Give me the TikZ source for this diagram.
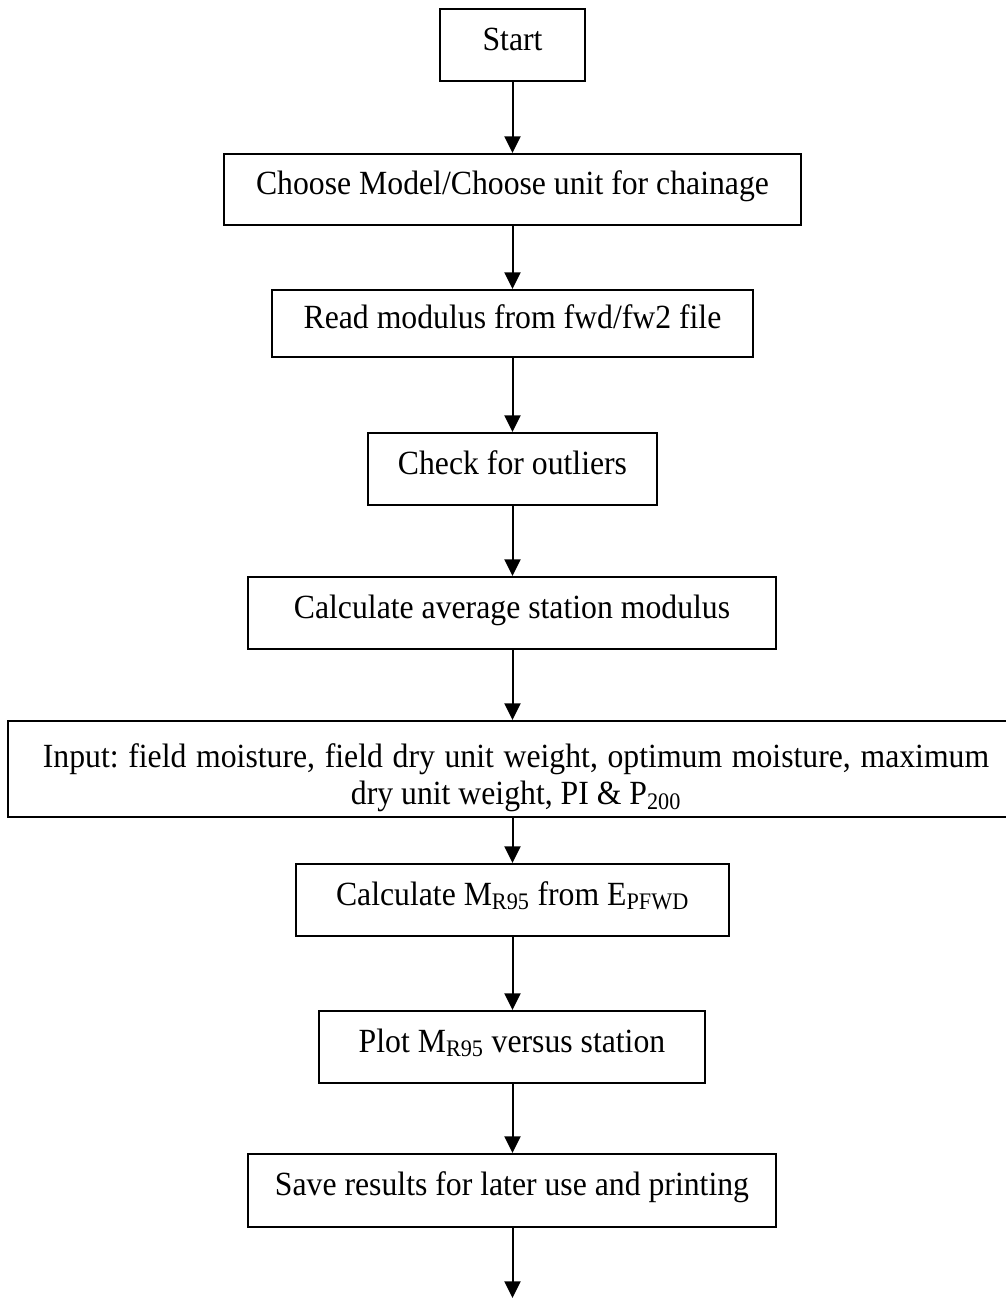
\documentclass[tikz,border=0pt]{standalone}
\usepackage{fontspec}
\setmainfont[FakeStretch=0.937]{Liberation Serif}
\usetikzlibrary{arrows.meta}
\newcommand{\widespaces}{\spaceskip=7.25pt\relax}
\begin{document}
\frenchspacing
\begin{tikzpicture}[x=0.75pt,y=-0.75pt,
  fbox/.style={draw, line width=1.5pt, align=center, inner sep=0pt,
    font=\fontsize{25.4}{28}\selectfont},
  oneline/.style={text height=19pt, text depth=11.5pt},
  btext/.style={align=center, inner sep=0pt,
    font=\fontsize{25.4}{27.5}\selectfont},
  flow/.style={line width=1.5pt, -{Triangle[width=12pt,length=12.5pt]}}]
\useasboundingbox (0,0) rectangle (1006,1299);
\clip (0,0) rectangle (1006,1299);
\node[fbox, oneline, minimum width=108.75pt, minimum height=54pt] (start) at (512.5,45) {Start};
\node[fbox, oneline, minimum width=432.75pt, minimum height=53.25pt] (choose) at (512.5,189.5) {Choose Model/Choose unit for chainage};
\node[fbox, oneline, minimum width=360.75pt, minimum height=50.25pt] (read) at (512.5,323.5) {Read modulus from fwd/fw2 file};
\node[fbox, oneline, minimum width=216.75pt, minimum height=54pt] (check) at (512.5,469) {Check for outliers};
\node[fbox, oneline, minimum width=396pt, minimum height=54pt] (cavg) at (512,613) {Calculate average station modulus};
\node[fbox, minimum width=762pt, minimum height=72pt] (inp) at (516,769) {};
\node[btext] (inptxt) at (516,778) {\widespaces Input: field moisture, field dry unit weight, optimum moisture, maximum\\dry unit weight, PI \& P\textsubscript{200}};
\node[fbox, oneline, minimum width=324.75pt, minimum height=54pt] (cm) at (512.5,900) {Calculate M\textsubscript{R95} from E\textsubscript{PFWD}};
\node[fbox, oneline, minimum width=289.5pt, minimum height=54pt] (plot) at (512,1047) {Plot M\textsubscript{R95} versus station};
\node[fbox, oneline, minimum width=396pt, minimum height=54.75pt] (save) at (512,1190.5) {Save results for later use and printing};
\coordinate (end) at (512.5,1298);
\draw[flow] (start.south) -- (choose.north);
\draw[flow] (choose.south) -- (read.north);
\draw[flow] (read.south) -- (check.north);
\draw[flow] (check.south) -- (check.south |- cavg.north);
\draw[flow] (check.south |- cavg.south) -- (check.south |- inp.north);
\draw[flow] (cm.north |- inp.south) -- (cm.north);
\draw[flow] (cm.south) -- (cm.south |- plot.north);
\draw[flow] (cm.south |- plot.south) -- (cm.south |- save.north);
\draw[flow] (cm.south |- save.south) -- (end);
\end{tikzpicture}
\end{document}
